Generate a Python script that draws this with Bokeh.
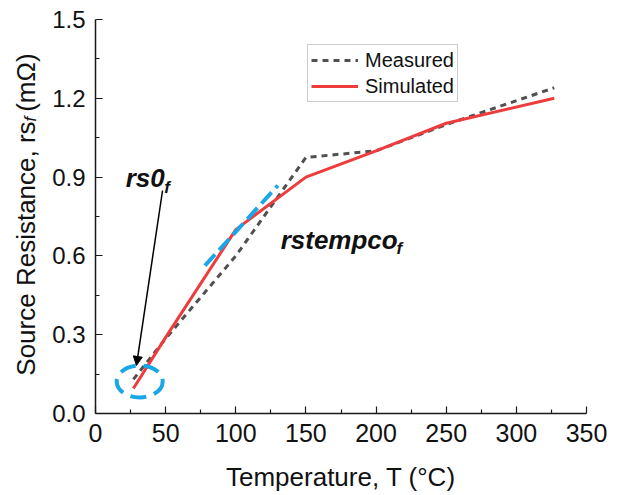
import math
from bokeh.plotting import figure
from bokeh.layouts import row
from bokeh.models import (Range1d, FixedTicker, Label, Arrow, NormalHead,
                          Legend, LegendItem, NumeralTickFormatter)
from bokeh.embed import file_html
from bokeh.resources import INLINE

# ---- data ----
temp_measured = [27, 50, 100, 150, 200, 250, 327]
rs_measured = [0.13, 0.285, 0.60, 0.975, 1.00, 1.10, 1.24]
temp_simulated = [27, 50, 100, 150, 200, 250, 327]
rs_simulated = [0.095, 0.29, 0.70, 0.90, 1.00, 1.105, 1.20]

x_major = [0, 50, 100, 150, 200, 250, 300, 350]
x_minor = [25, 75, 125, 175, 225, 275, 325]
y_major = [0.0, 0.3, 0.6, 0.9, 1.2, 1.5]
y_minor = [0.15, 0.45, 0.75, 1.05, 1.35]

# annotation geometry (data units)
tangent_T = [78, 130]
tangent_rs = [0.563, 0.868]
circle_T = [31.5]
circle_rs = [0.122]
arrow_start = (47.8, 0.849)
arrow_end = (29.2, 0.183)

FONT = "Liberation Sans"
RED = "#EE3B3B"
GRAY = "#505050"
BLUE = "#1AA7E8"
TXT = "#111111"

SIDE_W = 46

# ---- strip holding the rotated y-axis title (with subscript) ----
side = figure(width=SIDE_W, height=495, output_backend="svg", toolbar_location=None,
              x_range=Range1d(0, SIDE_W), y_range=Range1d(495, 0),
              x_axis_type=None, y_axis_type=None, min_border=0)
side.outline_line_color = None
side.grid.visible = False

ya = math.pi / 2
side.add_layout(Label(x=25, y=128, text="Source Resistance, rs", angle=ya,
                      text_font=FONT, text_font_size="26px", text_color=TXT,
                      text_align="right", text_baseline="alphabetic"))
side.add_layout(Label(x=30, y=128, text="f", angle=ya, text_font=FONT,
                      text_font_size="17px", text_font_style="italic",
                      text_color=TXT, text_align="left",
                      text_baseline="alphabetic"))
side.add_layout(Label(x=25, y=116, text="(mΩ)", angle=ya, text_font=FONT,
                      text_font_size="26px", text_color=TXT,
                      text_align="left", text_baseline="alphabetic"))

# ---- main chart ----
p = figure(width=620 - SIDE_W, height=495, output_backend="svg", toolbar_location=None,
           x_range=Range1d(0, 350), y_range=Range1d(0, 1.5),
           min_border_left=95 - SIDE_W, min_border_right=34, min_border_top=19,
           min_border_bottom=82)
p.outline_line_color = None
p.grid.visible = False

p.xaxis.ticker = FixedTicker(ticks=x_major, minor_ticks=x_minor)
p.yaxis.ticker = FixedTicker(ticks=y_major, minor_ticks=y_minor)
p.yaxis.formatter = NumeralTickFormatter(format="0.0")
for ax in (p.xaxis[0], p.yaxis[0]):
    ax.axis_line_color = "#1a1a1a"
    ax.axis_line_width = 1.5
    ax.major_tick_line_color = "#1a1a1a"
    ax.minor_tick_line_color = "#1a1a1a"
    ax.major_tick_line_width = 1.2
    ax.minor_tick_line_width = 1.2
    ax.major_tick_in = 7
    ax.major_tick_out = 0
    ax.minor_tick_in = 4
    ax.minor_tick_out = 0
    ax.major_label_text_font = FONT
    ax.major_label_text_color = TXT
p.xaxis.major_label_text_font_size = "25px"
p.yaxis.major_label_text_font_size = "24px"
p.xaxis.major_label_standoff = 10
p.yaxis.major_label_standoff = 10
p.xaxis.axis_label = "Temperature, T (°C)"
p.xaxis.axis_label_text_font = FONT
p.xaxis.axis_label_text_font_size = "26px"
p.xaxis.axis_label_text_font_style = "normal"
p.xaxis.axis_label_text_color = TXT
p.xaxis.axis_label_standoff = 17

r_meas = p.line(temp_measured, rs_measured, line_color=GRAY, line_width=3,
                line_dash="6 5")
r_sim = p.line(temp_simulated, rs_simulated, line_color=RED, line_width=3)

p.line(tangent_T, tangent_rs, line_color=BLUE, line_width=4, line_dash="15 6")
p.ellipse(x=circle_T, y=circle_rs, width=46, height=32, width_units="screen",
          height_units="screen", fill_color=None, line_color=BLUE,
          line_width=4, line_dash="16 8")

p.add_layout(Arrow(end=NormalHead(size=9, fill_color="black", line_color="black"),
                   x_start=arrow_start[0], y_start=arrow_start[1],
                   x_end=arrow_end[0], y_end=arrow_end[1],
                   line_color="black", line_width=1.5))

def lab(x, y, text, size):
    p.add_layout(Label(x=x, y=y, text=text, text_font=FONT,
                       text_font_size=size, text_font_style="bold italic",
                       text_color=TXT, text_align="left",
                       text_baseline="alphabetic"))

lab(21.5, 0.895, "rs0", "26px")
lab(49.0, 0.862, "f", "17px")
lab(132.0, 0.659, "rstempco", "26px")
lab(214.5, 0.628, "f", "17px")

legend = Legend(items=[LegendItem(label="Measured", renderers=[r_meas]),
                       LegendItem(label="Simulated", renderers=[r_sim])],
                location=(212, 311), margin=0, padding=3, spacing=2,
                glyph_width=47, glyph_height=24, label_height=24,
                label_standoff=7,
                label_text_font=FONT, label_text_font_size="20px",
                label_text_color=TXT,
                border_line_color="#999999", border_line_width=1,
                background_fill_color="white", background_fill_alpha=1)
p.add_layout(legend, "center")

layout = row(side, p, spacing=0)
open("out.html", "w").write(file_html(layout, INLINE))
